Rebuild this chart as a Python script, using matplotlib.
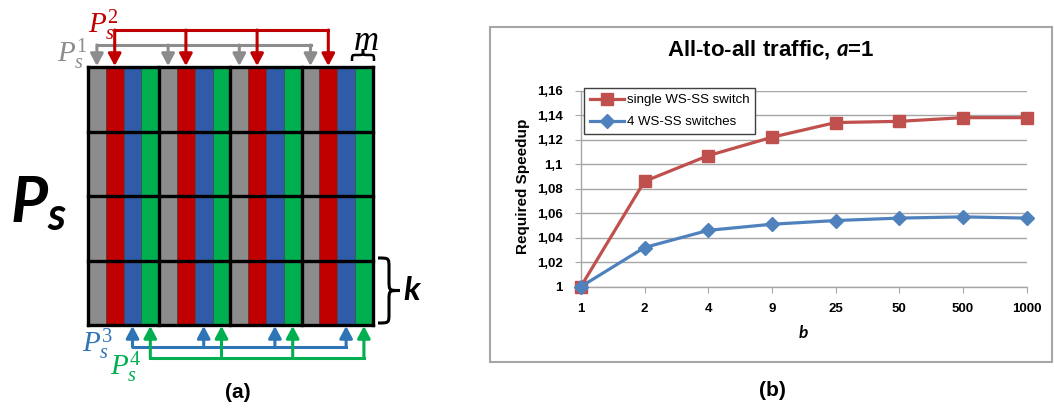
import matplotlib.pyplot as plt
from matplotlib.patches import Rectangle, PathPatch
from matplotlib.path import Path

plt.rcParams['mathtext.fontset'] = 'custom'
plt.rcParams['mathtext.it'] = 'Liberation Serif:italic'
plt.rcParams['mathtext.rm'] = 'Liberation Serif'
plt.rcParams['mathtext.bf'] = 'Lato:bold:italic'
plt.rcParams['font.family'] = ['Liberation Sans', 'DejaVu Sans']

# (a) wavelength / port layout
n_groups = 4
n_rows = 4
stripe_colors = ['#8C8C8C', '#C00000', '#2F5BA8', '#00B050']
bus_colors = ['#8C8C8C', '#C00000', '#2E75B6', '#00B050']
bus_labels = [r'$P_s^1$', r'$P_s^2$', r'$P_s^3$', r'$P_s^4$']

# (b) required speedup vs b
b_labels = ['1', '2', '4', '9', '25', '50', '500', '1000']
single_switch = [1.0, 1.086, 1.107, 1.122, 1.134, 1.135, 1.138, 1.138]
four_switches = [1.0, 1.032, 1.046, 1.051, 1.054, 1.056, 1.057, 1.056]
y_ticks = [1.0, 1.02, 1.04, 1.06, 1.08, 1.10, 1.12, 1.14, 1.16]

fig = plt.figure(figsize=(10.54, 4.12), dpi=100)
ax = fig.add_axes([0, 0, 1, 1])
ax.set_xlim(0, 1054)
ax.set_ylim(412, 0)
ax.axis('off')

# grid of stripes
gx0, gy0 = 88, 67
sw, rh = 17.8, 64.5
n_per = len(stripe_colors)
for r in range(n_rows):
    for g in range(n_groups):
        for j, c in enumerate(stripe_colors):
            ax.add_patch(Rectangle((gx0 + (g * n_per + j) * sw, gy0 + r * rh), sw, rh,
                                   fc=c, ec='#3a3a3a', lw=0.4))
gw = n_groups * n_per * sw
gh = n_rows * rh
for g in range(n_groups + 1):
    x = gx0 + g * n_per * sw
    ax.plot([x, x], [gy0, gy0 + gh], color='k', lw=2.4, solid_capstyle='projecting')
for r in range(n_rows + 1):
    y = gy0 + r * rh
    ax.plot([gx0, gx0 + gw], [y, y], color='k', lw=2.4, solid_capstyle='projecting')


def bus(j, line_y, tip_y, color):
    xs = [gx0 + (g * n_per + j + 0.5) * sw for g in range(n_groups)]
    ax.plot([xs[0], xs[-1]], [line_y, line_y], color=color, lw=2.2, solid_capstyle='projecting')
    for x in xs:
        ax.annotate('', xy=(x, tip_y), xytext=(x, line_y),
                    arrowprops=dict(arrowstyle='-|>,head_length=0.6,head_width=0.32',
                                    color=color, lw=2.2, shrinkA=0, shrinkB=0,
                                    mutation_scale=12))


bus(0, 45, 66, bus_colors[0])
bus(1, 30, 66, bus_colors[1])
bus(2, 347, 326, bus_colors[2])
bus(3, 358, 326, bus_colors[3])

ax.text(57, 62, bus_labels[0], color=bus_colors[0], fontsize=21, ha='left', va='baseline')
ax.text(88, 33, bus_labels[1], color=bus_colors[1], fontsize=21, ha='left', va='baseline')
ax.text(82, 352, bus_labels[2], color=bus_colors[2], fontsize=21, ha='left', va='baseline')
ax.text(110, 375, bus_labels[3], color=bus_colors[3], fontsize=21, ha='left', va='baseline')


def brace(a0, a1, base, depth, vertical, lw=2.0):
    L = a1 - a0
    h = depth * 0.5
    q = min(abs(depth) * 0.45, L * 0.2)
    pts = [(0, 0), (h, 0), (h, 0), (h, q), (h, L / 2 - q),
           (h, L / 2), (h, L / 2), (depth, L / 2),
           (h, L / 2), (h, L / 2), (h, L / 2 + q), (h, L - q),
           (h, L), (h, L), (0, L)]
    codes = [Path.MOVETO] + [Path.CURVE4] * 3 + [Path.LINETO] + [Path.CURVE4] * 6 + \
            [Path.LINETO] + [Path.CURVE4] * 3
    if vertical:
        verts = [(base + p, a0 + s) for p, s in pts]
    else:
        verts = [(a0 + s, base + p) for p, s in pts]
    ax.add_patch(PathPatch(Path(verts, codes), fill=False, ec='k', lw=lw))


brace(352, 374, 61, -12, vertical=False, lw=1.8)
ax.text(366, 40, r'$m$', fontsize=25, ha='center', va='center')
brace(258, 323, 378, 22, vertical=True, lw=2.2)
ax.text(403, 291, r'$\mathbf{k}$', fontsize=24, ha='left', va='center')
ax.text(10, 222, r'$\mathbf{P}_\mathbf{s}$', fontsize=46, ha='left', va='baseline')
ax.text(238, 393, '(a)', fontsize=15, fontweight='bold', ha='center', va='center')

# (b) chart frame and labels
ax.add_patch(Rectangle((490, 27), 562, 335, fill=False, ec='#A6A6A6', lw=1.5))
ax.text(771, 55, r'All-to-all traffic, $\mathbf{a}$=1', fontsize=16, fontweight='bold',
        ha='center', va='baseline')
ax.text(523, 186, 'Required Speedup', rotation=90, fontsize=11, fontweight='bold',
        ha='center', va='center')
ax.text(803, 332, r'$\mathbf{b}$', fontsize=12.5, ha='center', va='center')
ax.text(772, 390, '(b)', fontsize=15, fontweight='bold', ha='center', va='center')

axb = fig.add_axes([580.8 / 1054, (412 - 286.7) / 412, 445.9 / 1054, 196 / 412])
axb.set_facecolor('none')
xs = range(len(b_labels))
axb.plot(xs, single_switch, color='#C0504D', lw=2.3, marker='s', ms=8,
         clip_on=False, zorder=3, label='single WS-SS switch')
axb.plot(xs, four_switches, color='#4F81BD', lw=2.3, marker='D', ms=7,
         clip_on=False, zorder=4, label='4 WS-SS switches')
axb.set_xlim(0, len(b_labels) - 1)
axb.set_ylim(y_ticks[0], y_ticks[-1])
axb.set_xticks(list(xs))
axb.set_xticklabels(b_labels)
axb.set_yticks(y_ticks)
axb.set_yticklabels([f'{v:g}'.replace('.', ',') for v in y_ticks])
axb.grid(axis='y', color='#A6A6A6', lw=1)
axb.set_axisbelow(True)
for s in ['top', 'right']:
    axb.spines[s].set_visible(False)
for s in ['left', 'bottom']:
    axb.spines[s].set_color('#A6A6A6')
    axb.spines[s].set_linewidth(1)
axb.tick_params(axis='both', direction='out', length=4, color='#A6A6A6', labelsize=9.5)
axb.tick_params(axis='y', pad=9)
axb.tick_params(axis='x', pad=8)
for lab in axb.get_xticklabels() + axb.get_yticklabels():
    lab.set_fontweight('bold')

leg = axb.legend(loc='upper left', bbox_to_anchor=(584 / 1054, 1 - 88 / 412),
                 bbox_transform=fig.transFigure, fancybox=False, edgecolor='#404040',
                 framealpha=1, borderaxespad=0, fontsize=9.5, handlelength=2.6,
                 handletextpad=0.2, borderpad=0.45, labelspacing=0.75)
leg.get_frame().set_linewidth(1)

fig.savefig('out.png', dpi=100)
